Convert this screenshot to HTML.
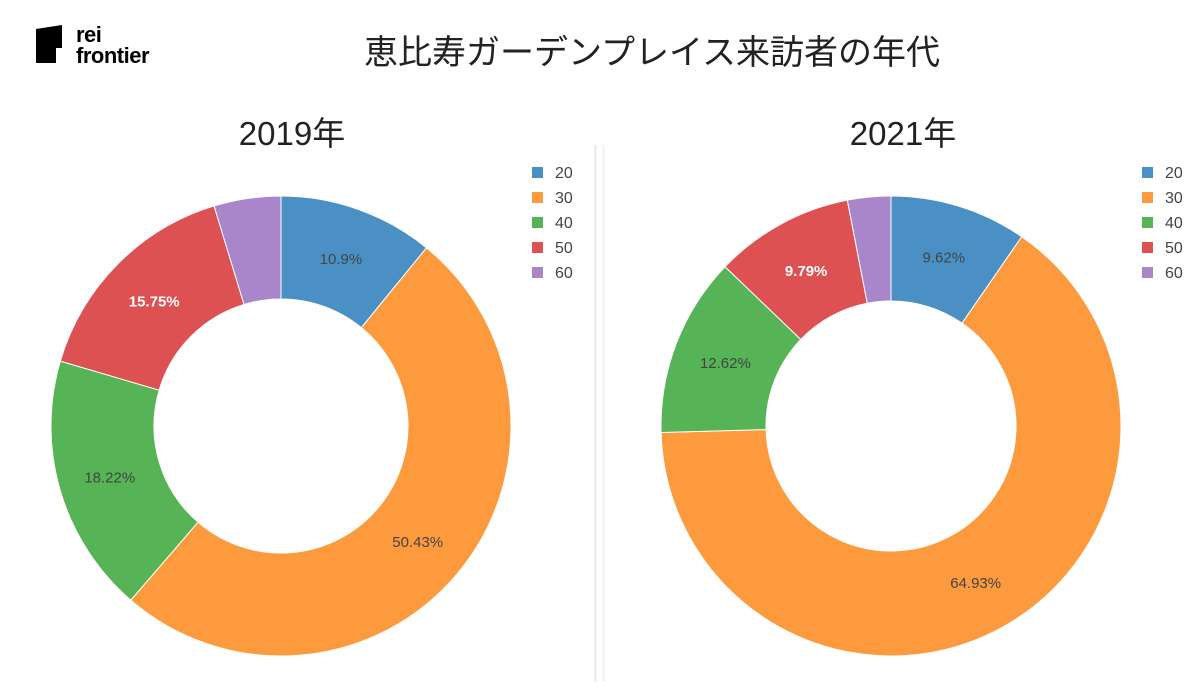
<!DOCTYPE html>
<html><head><meta charset="utf-8">
<style>
body{margin:0;width:1200px;height:682px;background:#fff;overflow:hidden;font-family:"Liberation Sans","Noto Sans CJK JP",sans-serif;}
#wrap{position:relative;width:1200px;height:682px;}
</style></head>
<body><div id="wrap">
<svg id="svg" width="1200" height="682" xmlns="http://www.w3.org/2000/svg">
 <g>
  <path d="M36 29 L62 25 L62 48 L56 48 L56 63 L36 63 Z" fill="#000"/>
  <text x="76" y="42" font-size="22" font-weight="900" fill="#000" letter-spacing="-0.5">rei</text>
  <text x="76" y="63" font-size="22" font-weight="900" fill="#000" letter-spacing="-0.5">frontier</text>
 </g>
 <text x="652" y="64" font-size="34" font-weight="400" text-anchor="middle" fill="#222" font-family="Noto Sans CJK JP, sans-serif">恵比寿ガーデンプレイス来訪者の年代</text>
 <line x1="595.5" y1="145" x2="595.5" y2="682" stroke="#e4e4e4" stroke-width="1.5"/>
 <line x1="603.5" y1="145" x2="603.5" y2="682" stroke="#eeeeee" stroke-width="1.5"/>
 <g id="charts"></g>
</svg>
</div>
<script>
const categories = ["20","30","40","50","60"];
const values2019 = [10.9, 50.43, 18.22, 15.75, 4.70];
const values2021 = [9.62, 64.93, 12.62, 9.79, 3.04];
const labels2019 = ["10.9%","50.43%","18.22%","15.75%",""];
const labels2021 = ["9.62%","64.93%","12.62%","9.79%",""];
const titles = ["2019年","2021年"];
const colors = ["#4a90c4","#fd9a3d","#56b356","#dd5152","#a986c9"];
const NS="http://www.w3.org/2000/svg";
const root=document.getElementById('charts');
function mk(tag,attrs,parent){const e=document.createElementNS(NS,tag);for(const k in attrs)e.setAttribute(k,attrs[k]);parent.appendChild(e);return e;}
function donut(idx,cx,cy,R,r,vals,labs,legX,titleX){
  const g=mk('g',{},root);
  
  
  const t=mk('text',{x:titleX,y:145,'font-size':33,'text-anchor':'middle',fill:'#222'},g);
  t.textContent=titles[idx];
  
  
  const total=vals.reduce((a,b)=>a+b,0);
  let a0=0;
  vals.forEach((v,i)=>{
    const a1=a0+v/total*2*Math.PI;
    const p=(a,rad)=>[cx+rad*Math.sin(a),cy-rad*Math.cos(a)];
    const large=(a1-a0)>Math.PI?1:0;
    const [x1,y1]=p(a0,R),[x2,y2]=p(a1,R),[x3,y3]=p(a1,r),[x4,y4]=p(a0,r);
    const path=mk('path',{d:`M${x1} ${y1} A${R} ${R} 0 ${large} 1 ${x2} ${y2} L${x3} ${y3} A${r} ${r} 0 ${large} 0 ${x4} ${y4} Z`,fill:colors[i],stroke:'#fff','stroke-width':1},g);
    
    
    if(labs[i]){
      const am=(a0+a1)/2,[lx,ly]=p(am,(R+r)/2);
      const tx=mk('text',{x:lx,y:ly+6,'font-size':15,'text-anchor':'middle',fill:i===3?'#fff':'#444'},g);
      if(i===3) tx.setAttribute('font-weight','bold');
      tx.textContent=labs[i];
      
      
    }
    a0=a1;
  });
  categories.forEach((c,i)=>{
    const y=172+i*25;
    const sq=mk('rect',{x:legX,y:y-5,width:11,height:11,fill:colors[i]},g);
    
    
    const lt=mk('text',{x:legX+23,y:y+6,'font-size':16,fill:'#444'},g);
    lt.textContent=c;
    
    
  });
}
donut(0,281,426,230,127,values2019,labels2019,532,292);
donut(1,891,426,230,125,values2021,labels2021,1142,903);
</script>
</body></html>
